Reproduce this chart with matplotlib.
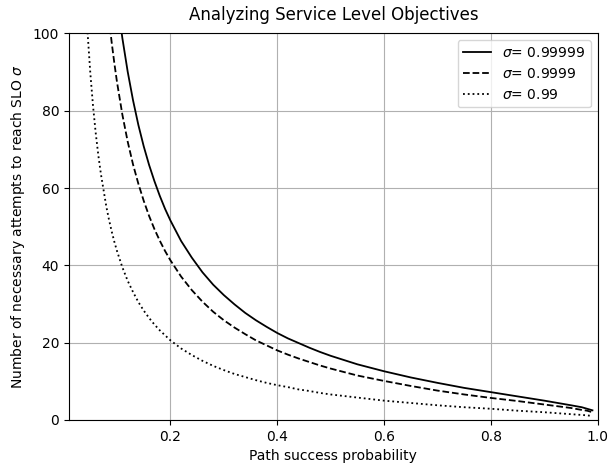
import matplotlib
matplotlib.use('Agg')
import matplotlib.pyplot as plt

# path success probability
p = [0.03, 0.035, 0.04, 0.045, 0.05, 0.055, 0.06, 0.065, 0.07, 0.08, 0.085,
     0.09, 0.095, 0.10, 0.11, 0.12, 0.13, 0.14, 0.15, 0.16, 0.17, 0.18, 0.19,
     0.20, 0.22, 0.24, 0.26, 0.28, 0.30, 0.32, 0.34, 0.36, 0.38, 0.40, 0.42,
     0.44, 0.46, 0.48, 0.50, 0.55, 0.60, 0.65, 0.70, 0.75, 0.80, 0.85, 0.90,
     0.95, 0.97, 0.98, 0.99]

# attempts needed
n_99999 = [378.0, 323.2, 282.0, 250.0, 224.5, 203.5, 186.1, 171.3, 158.6, 138.1,
           129.6, 122.1, 115.3, 109.3, 98.8, 90.1, 82.7, 76.3, 70.8, 66.0, 61.8,
           58.0, 54.6, 51.6, 46.3, 42.0, 38.2, 35.0, 32.3, 29.9, 27.7, 25.8,
           24.1, 22.5, 21.1, 19.9, 18.7, 17.6, 16.6, 14.4, 12.6, 11.0, 9.6, 8.3,
           7.2, 6.1, 5.0, 3.8, 3.3, 2.9, 2.5]
n_9999 = [302.4, 258.5, 225.6, 200.0, 179.6, 162.8, 148.9, 137.0, 126.9, 110.5,
          103.7, 97.7, 92.3, 87.4, 79.0, 72.0, 66.1, 61.1, 56.7, 52.8, 49.4,
          46.4, 43.7, 41.3, 37.1, 33.6, 30.6, 28.0, 25.8, 23.9, 22.2, 20.6,
          19.3, 18.0, 16.9, 15.9, 15.0, 14.1, 13.3, 11.5, 10.1, 8.8, 7.6, 6.6,
          5.7, 4.9, 4.0, 3.1, 2.6, 2.4, 2.0]
n_99 = [151.2, 129.3, 112.8, 100.0, 89.8, 81.4, 74.4, 68.5, 63.5, 55.2,
        51.8, 48.8, 46.1, 43.7, 39.5, 36.0, 33.1, 30.5, 28.3, 26.4, 24.7,
        23.2, 21.9, 20.6, 18.5, 16.8, 15.3, 14.0, 12.9, 11.9, 11.1, 10.3,
        9.6, 9.0, 8.5, 7.9, 7.5, 7.0, 6.6, 5.8, 5.0, 4.4, 3.8, 3.3,
        2.9, 2.4, 2.0, 1.5, 1.3, 1.2, 1.0]

fig = plt.figure(figsize=(6.1, 4.68), dpi=100)
ax = fig.add_axes([0.113, 0.1026, 0.867, 0.826])

ax.plot(p, n_99999, color='k', linestyle='-', lw=1.3, label=r'$\sigma$= 0.99999')
ax.plot(p, n_9999, color='k', linestyle='--', lw=1.3, label=r'$\sigma$= 0.9999')
ax.plot(p, n_99, color='k', linestyle=':', lw=1.3, label=r'$\sigma$= 0.99')

ax.set_xlim(0.01, 1.0)
ax.set_ylim(0, 100)
ax.grid(True)
ax.set_xlabel('Path success probability')
ax.set_ylabel(r'Number of necessary attempts to reach SLO $\sigma$')
ax.set_title('Analyzing Service Level Objectives', pad=10)
ax.legend(loc='upper right')

fig.savefig('out.png', dpi=100)
